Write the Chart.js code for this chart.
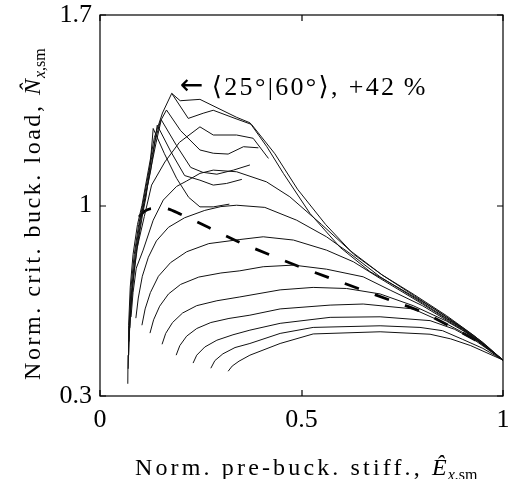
<!DOCTYPE html>
<html>
<head>
<meta charset="utf-8">
<script src="https://cdn.jsdelivr.net/npm/chart.js@4.4.0/dist/chart.umd.min.js"></script>
<style>html,body{margin:0;padding:0;background:#fff}</style>
</head>
<body>
<canvas id="c" width="516" height="479"></canvas>
<script>
// axis ticks
const xTicks = [0, 0.5, 1];
const yTicks = [0.3, 1, 1.7];

// outer envelope through the +42 % peak
const envelope = [[0.069,0.345],[0.0695,0.45],[0.071,0.56],[0.075,0.70],[0.082,0.82],[0.093,0.93],[0.104,1.00],[0.12,1.13],[0.135,1.25],[0.155,1.34],[0.178,1.412],[0.199,1.385],[0.248,1.39],[0.339,1.324],[0.372,1.304],[0.414,1.216],[0.455,1.118],[0.521,0.971],[0.596,0.846],[0.67,0.757],[0.75,0.69],[0.83,0.62],[0.90,0.551],[0.95,0.497],[1,0.432]];
const peakBranch = [[0.178,1.412],[0.219,1.32],[0.256,1.339],[0.281,1.35],[0.335,1.32],[0.376,1.298],[0.434,1.19],[0.49,1.06],[0.56,0.93],[0.63,0.82],[0.70,0.745],[0.78,0.672],[0.86,0.595],[0.93,0.52],[1,0.432]];

// zig-zag curves of the upper mesh
const meshA = [[0.070,0.40],[0.072,0.55],[0.077,0.70],[0.085,0.82],[0.096,0.93],[0.107,1.01],[0.122,1.13],[0.137,1.24],[0.150,1.31],[0.165,1.351],[0.20,1.275],[0.248,1.204],[0.281,1.192],[0.318,1.189],[0.356,1.216],[0.393,1.212]];
const meshB = [[0.071,0.45],[0.074,0.58],[0.079,0.70],[0.088,0.83],[0.099,0.94],[0.109,1.01],[0.124,1.12],[0.139,1.23],[0.152,1.315],[0.19,1.22],[0.225,1.14],[0.255,1.122],[0.290,1.115],[0.331,1.130],[0.372,1.149]];
const meshC = [[0.072,0.50],[0.076,0.62],[0.082,0.72],[0.091,0.84],[0.102,0.95],[0.111,1.02],[0.126,1.13],[0.142,1.295],[0.175,1.20],[0.21,1.11],[0.248,1.093],[0.281,1.075],[0.314,1.081],[0.352,1.096]];
const meshD = [[0.074,0.55],[0.078,0.65],[0.085,0.76],[0.095,0.87],[0.106,0.97],[0.114,1.03],[0.124,1.14],[0.132,1.283],[0.16,1.19],[0.19,1.10],[0.22,1.03],[0.248,0.995],[0.281,0.995],[0.321,1.005]];
const meshE = [[0.093,0.85],[0.110,0.96],[0.128,1.075],[0.161,1.16],[0.197,1.232],[0.248,1.289],[0.281,1.259],[0.339,1.259],[0.380,1.247],[0.418,1.173]];
const meshF = [[0.077,0.59],[0.082,0.68],[0.090,0.77],[0.107,0.836],[0.132,0.946],[0.157,1.02],[0.19,1.07],[0.215,1.09],[0.248,1.118],[0.281,1.13],[0.339,1.124],[0.413,1.087],[0.471,1.032],[0.55,0.93],[0.62,0.835],[0.70,0.745],[0.78,0.668],[0.86,0.59],[0.93,0.517],[1,0.432]];

// lower family, all ending at (1, 0.432)
const lowB8 = [[0.089,0.586],[0.095,0.66],[0.105,0.74],[0.12,0.81],[0.14,0.87],[0.17,0.92],[0.21,0.955],[0.26,0.982],[0.30,0.996],[0.339,1.001],[0.409,0.993],[0.488,0.946],[0.562,0.885],[0.620,0.824],[0.695,0.738],[0.80,0.642],[0.90,0.548],[1,0.432]];
const lowB7 = [[0.104,0.560],[0.112,0.62],[0.125,0.68],[0.145,0.74],[0.175,0.79],[0.215,0.83],[0.27,0.86],[0.347,0.875],[0.405,0.885],[0.48,0.873],[0.562,0.836],[0.629,0.793],[0.695,0.732],[0.80,0.638],[0.90,0.546],[1,0.432]];
const lowB6 = [[0.124,0.531],[0.133,0.58],[0.148,0.63],[0.17,0.675],[0.20,0.71],[0.245,0.737],[0.30,0.752],[0.347,0.760],[0.405,0.775],[0.48,0.781],[0.562,0.766],[0.653,0.738],[0.72,0.689],[0.80,0.632],[0.90,0.543],[1,0.432]];
const lowB5 = [[0.154,0.490],[0.163,0.53],[0.18,0.57],[0.205,0.605],[0.24,0.632],[0.29,0.65],[0.347,0.664],[0.447,0.690],[0.529,0.699],[0.612,0.695],[0.695,0.675],[0.777,0.632],[0.86,0.575],[0.93,0.515],[1,0.432]];
const lowB4 = [[0.189,0.450],[0.198,0.485],[0.215,0.52],[0.24,0.548],[0.275,0.570],[0.32,0.585],[0.372,0.597],[0.447,0.620],[0.571,0.634],[0.653,0.638],[0.777,0.620],[0.86,0.565],[0.93,0.51],[1,0.432]];
const lowB3 = [[0.231,0.421],[0.24,0.45],[0.26,0.48],[0.29,0.505],[0.33,0.525],[0.372,0.542],[0.447,0.567],[0.571,0.589],[0.695,0.591],[0.819,0.577],[0.88,0.545],[0.93,0.505],[1,0.432]];
const lowB2 = [[0.275,0.402],[0.285,0.43],[0.305,0.455],[0.335,0.478],[0.372,0.493],[0.447,0.530],[0.529,0.552],[0.695,0.558],[0.794,0.552],[0.85,0.54],[0.90,0.508],[0.95,0.475],[1,0.432]];
const lowB1 = [[0.318,0.391],[0.328,0.41],[0.345,0.428],[0.372,0.450],[0.447,0.493],[0.529,0.528],[0.695,0.536],[0.819,0.527],[0.87,0.51],[0.92,0.485],[1,0.432]];

// dashed reference curve
const dashedCurve = [[0.097,0.958],[0.110,0.978],[0.124,0.988],[0.165,0.989],[0.20,0.968],[0.27,0.919],[0.343,0.867],[0.418,0.821],[0.492,0.777],[0.566,0.736],[0.641,0.695],[0.72,0.652],[0.794,0.612],[0.864,0.560],[0.935,0.503]];

const annotation = { arrow: '\u2190', text: '\u27E825\u00B0|60\u00B0\u27E9, +42\u2009%', at: [0.203, 1.405] };

const solidCurves = [envelope, peakBranch, meshA, meshB, meshC, meshD, meshE, meshF,
    lowB8, lowB7, lowB6, lowB5, lowB4, lowB3, lowB2, lowB1];

const SERIF = '"Liberation Serif", "DejaVu Serif", serif';

function spaced(ctx, text, x, y, width) {
    ctx.letterSpacing = '0px';
    const w = ctx.measureText(text).width;
    const ls = width ? (width - w) / text.length : 0;
    ctx.letterSpacing = ls + 'px';
    ctx.fillText(text, x, y);
    const out = ctx.measureText(text).width;
    ctx.letterSpacing = '0px';
    return out;
}

// writes "main, V_{x,sm}" starting at (0,0) of the current transform
function axisLabel(ctx, main, mainWidth, sym) {
    ctx.font = '24px ' + SERIF;
    let cx = spaced(ctx, main, 0, 0, mainWidth);
    ctx.font = 'italic 24px ' + SERIF;
    ctx.fillText(sym, cx, 0);
    cx += ctx.measureText(sym).width + 1;
    ctx.font = 'italic 16px ' + SERIF;
    ctx.fillText('x', cx, 5);
    cx += ctx.measureText('x').width;
    ctx.font = '16px ' + SERIF;
    ctx.fillText(',sm', cx, 5);
}

const framePlugin = {
    id: 'frame',
    afterDraw(chart) {
        const { ctx, chartArea: { left, right, top, bottom }, scales: { x, y } } = chart;
        ctx.save();
        ctx.strokeStyle = '#000';
        ctx.lineWidth = 1.2;
        ctx.strokeRect(left, top, right - left, bottom - top);
        ctx.beginPath();
        xTicks.forEach(v => {
            const px = Math.round(x.getPixelForValue(v));
            ctx.moveTo(px, bottom); ctx.lineTo(px, bottom - 6);
            ctx.moveTo(px, top); ctx.lineTo(px, top + 6);
        });
        yTicks.forEach(v => {
            const py = Math.round(y.getPixelForValue(v));
            ctx.moveTo(left, py); ctx.lineTo(left + 6, py);
            ctx.moveTo(right, py); ctx.lineTo(right - 6, py);
        });
        ctx.stroke();

        ctx.fillStyle = '#000';
        ctx.textBaseline = 'alphabetic';
        ctx.textAlign = 'left';

        // annotation next to the peak
        const ax = x.getPixelForValue(annotation.at[0]);
        const ay = y.getPixelForValue(annotation.at[1]);
        ctx.font = '28px "DejaVu Sans", sans-serif';
        ctx.fillText(annotation.arrow, ax - 2, ay - 1);
        ctx.font = '26px ' + SERIF;
        spaced(ctx, annotation.text, ax + 30, ay, 216);

        // x title
        ctx.save();
        ctx.translate(135, 475);
        axisLabel(ctx, 'Norm. pre-buck. stiff., ', 297, '\u00CA');
        ctx.restore();

        // y title
        ctx.save();
        ctx.translate(40, 380);
        ctx.rotate(-Math.PI / 2);
        axisLabel(ctx, 'Norm. crit. buck. load, ', 285, 'N\u0302');
        ctx.restore();
        ctx.restore();
    }
};

const datasets = solidCurves.map(c => ({
    data: c.map(([x, y]) => ({ x, y })),
    borderColor: '#111', borderWidth: 1, pointRadius: 0, showLine: true, tension: 0
}));
datasets.push({
    data: dashedCurve.map(([x, y]) => ({ x, y })),
    borderColor: '#000', borderWidth: 2.8, borderDash: [15, 17], pointRadius: 0, showLine: true, tension: 0.3
});

new Chart(document.getElementById('c'), {
    type: 'scatter',
    data: { datasets },
    options: {
        responsive: false,
        animation: false,
        devicePixelRatio: 1,
        layout: { padding: { top: 15, right: 13, left: 0, bottom: 0 } },
        plugins: { legend: { display: false }, tooltip: { enabled: false } },
        scales: {
            x: {
                type: 'linear', min: 0, max: 1,
                grid: { display: false, drawTicks: false },
                border: { display: false },
                afterBuildTicks: s => { s.ticks = xTicks.map(v => ({ value: v })); },
                afterFit: s => { s.height = 83; s.paddingLeft = 0; s.paddingRight = 0; },
                ticks: { color: '#000', padding: 9, maxRotation: 0, font: { family: SERIF, size: 26 }, callback: v => String(v) }
            },
            y: {
                type: 'linear', min: 0.3, max: 1.7,
                grid: { display: false, drawTicks: false },
                border: { display: false },
                afterBuildTicks: s => { s.ticks = yTicks.map(v => ({ value: v })); },
                afterFit: s => { s.width = 100; s.paddingTop = 0; s.paddingBottom = 0; },
                ticks: { color: '#000', padding: 8, font: { family: SERIF, size: 26 }, callback: v => String(v) }
            }
        }
    },
    plugins: [framePlugin]
});
</script>
</body>
</html>
